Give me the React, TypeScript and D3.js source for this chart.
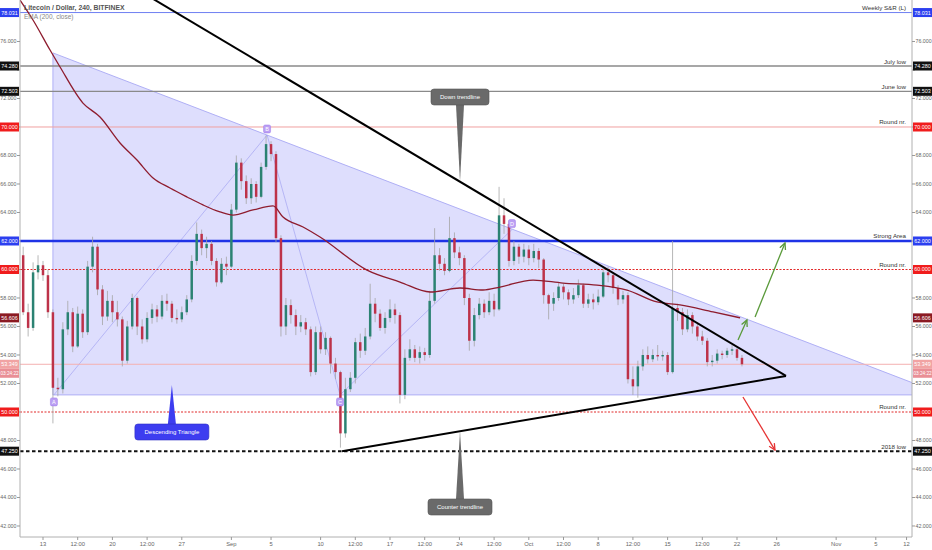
import * as d3 from 'd3';

// ---- data ----
const DAY0 = Date.UTC(2018, 7, 13); // 13 Aug 2018
const CANDLE_START = Date.UTC(2018, 7, 11); // 12h candles
const firstOpen = 61.0;
const closes = [
  57.0, 55.9, 59.8, 60.3, 59.6, 57.0, 51.7, 51.6, 55.8, 57.0,
  54.6, 56.9, 55.6, 60.2, 61.6, 58.6, 56.7, 57.8, 57.0, 56.5,
  53.6, 56.0, 58.0, 56.0, 55.1, 56.6, 57.2, 56.7, 57.8, 57.6,
  56.6, 56.5, 57.0, 57.9, 60.6, 62.5, 61.5, 61.8, 60.6, 59.1,
  60.4, 60.2, 64.2, 67.5, 66.2, 65.0, 66.0, 65.1, 67.2, 68.8,
  68.1, 62.2, 56.0, 57.5, 56.8, 56.0, 56.3, 55.8, 52.8, 55.6,
  54.4, 55.2, 53.4, 52.8, 48.5, 51.6, 52.4, 54.9, 54.3, 55.3,
  57.6, 56.9, 55.9, 56.6, 57.2, 56.8, 51.2, 53.8, 54.4, 53.8,
  54.2, 54.0, 57.8, 61.0, 60.4, 59.9, 62.2, 61.2, 60.8, 58.0,
  55.0, 56.8, 57.6, 57.0, 57.8, 57.2, 63.8, 63.2, 60.6, 61.6,
  60.9, 61.4, 60.8, 61.3, 60.7, 58.2, 57.6, 58.0, 58.8, 58.4,
  57.9, 58.2, 58.9, 57.6, 57.9, 57.7, 58.1, 59.8, 59.6, 58.7,
  57.9, 58.2, 52.3, 51.8, 53.2, 54.0, 53.7, 54.0, 53.9, 54.0,
  52.8, 57.3, 57.0, 55.8, 56.8, 56.0, 55.3, 55.0, 53.5, 53.6,
  54.1, 54.0, 54.3, 54.4, 53.8, 53.35,
];
const highs = [
  61.6, 57.6, 60.5, 61.0, 60.6, 60.0, 57.2, 52.4, 56.3, 57.8,
  57.3, 57.4, 57.2, 60.6, 62.3, 61.8, 58.9, 58.5, 58.2, 57.8,
  56.7, 56.4, 58.3, 58.1, 56.5, 57.0, 57.6, 57.5, 58.2, 58.3,
  57.8, 57.2, 57.4, 58.2, 61.0, 63.3, 62.8, 62.3, 62.0, 60.8,
  60.8, 60.9, 64.6, 68.0, 67.8, 66.6, 66.4, 66.2, 67.5, 69.4,
  69.0, 68.3, 62.4, 58.0, 57.9, 57.2, 56.8, 56.6, 56.0, 56.0,
  56.0, 55.6, 55.3, 53.8, 52.9, 52.4, 52.8, 55.2, 55.5, 55.9,
  59.0, 58.0, 57.2, 57.0, 57.9, 57.6, 57.0, 54.4, 55.1, 54.7,
  54.6, 54.5, 58.5, 62.9, 61.5, 60.8, 63.7, 62.6, 61.6, 61.0,
  58.3, 57.3, 58.0, 57.9, 58.4, 58.3, 65.8, 65.0, 63.4, 62.0,
  61.8, 61.8, 61.7, 61.8, 61.5, 60.8, 58.3, 58.4, 59.1, 59.0,
  58.6, 58.7, 59.3, 59.0, 58.3, 58.3, 58.6, 60.1, 60.2, 59.8,
  58.9, 58.5, 58.4, 53.2, 53.6, 54.4, 54.6, 54.4, 54.7, 54.3,
  54.2, 62.0, 57.6, 57.3, 57.2, 57.0, 56.2, 55.7, 55.2, 54.0,
  54.4, 54.3, 54.5, 54.7, 54.5, 54.0,
];
const lows = [
  56.8, 55.3, 55.7, 59.3, 59.2, 56.6, 49.2, 51.1, 51.3, 55.4,
  54.2, 54.5, 55.2, 55.4, 59.8, 58.2, 56.1, 56.4, 56.3, 56.0,
  53.2, 53.4, 55.8, 55.4, 54.8, 54.9, 56.2, 56.3, 56.5, 57.1,
  56.3, 56.2, 56.3, 56.8, 57.7, 60.3, 61.0, 60.8, 60.3, 58.8,
  59.0, 59.6, 60.1, 64.0, 65.6, 64.6, 64.6, 64.7, 65.0, 67.0,
  67.6, 61.9, 55.3, 55.4, 56.2, 55.4, 55.6, 55.4, 52.5, 52.6,
  54.1, 54.0, 52.7, 52.3, 47.5, 48.2, 51.4, 52.0, 53.8, 54.0,
  55.1, 56.3, 55.7, 55.5, 56.3, 56.2, 50.6, 50.9, 53.6, 53.5,
  53.4, 53.6, 53.8, 57.6, 59.9, 59.6, 59.8, 60.8, 60.3, 57.5,
  54.3, 54.6, 56.5, 56.6, 56.8, 56.7, 57.1, 62.5, 60.2, 60.3,
  60.4, 60.5, 60.3, 60.5, 60.1, 57.6, 56.5, 57.1, 57.8, 57.9,
  57.5, 57.6, 58.0, 57.3, 57.3, 57.2, 57.5, 58.0, 59.1, 58.3,
  57.5, 57.6, 52.0, 51.2, 51.0, 52.9, 53.4, 53.5, 53.6, 53.6,
  52.6, 52.7, 56.4, 55.4, 55.6, 55.5, 55.0, 54.7, 53.2, 53.2,
  53.4, 53.7, 53.8, 54.0, 53.6, 53.2,
];

// EMA(200, close), days after 13 Aug and value
const emaDays = [-2.32, -1.01, 0.71, 1.72, 4.03, 5.75, 7.77, 9.48, 11.1, 12.81, 14.53, 16.14, 17.85, 19.16, 21.18, 23.2, 24.21, 26.23, 27.94, 32.68, 36.01, 39.04, 42.06, 44.38, 46.1, 49.43, 52.45, 55.88, 58.91, 61.93, 64.25, 67.58, 70.31];
const emaValues = [78.91, 77.51, 75.4, 74.21, 71.68, 70.7, 68.88, 67.68, 66.42, 65.72, 65.09, 64.53, 64.04, 63.82, 64.18, 64.46, 63.68, 62.98, 62.28, 59.96, 59.12, 58.42, 58.7, 58.56, 58.77, 59.26, 59.05, 58.91, 58.56, 57.72, 57.51, 57.02, 56.61];

// horizontal levels
const levelValues = [78.031, 74.28, 72.503, 70, 62, 60, 50, 47.25];
const levelNames = ['Weekly S&R (L)', 'July low', 'June low', 'Round nr.', 'Strong Area', 'Round nr.', 'Round nr.', '2018 low'];
const emaLast = 56.606;
const lastPrice = 53.349;
const countdown = '03:24:22';

// descending triangle pattern (day, price)
const triDays = [1.0, 87.7];
const triTop = [75.2, 52.05];
const triBottom = 51.2;
const abcdNames = ['A', 'B', 'C', 'D'];
const abcdDays = [1.1, 22.6, 29.96, 47.3];
const abcdPrices = [51.2, 69.44, 51.2, 62.8];

// trendlines (day, price)
const downDays = [10.5, 74.94];
const downPrices = [79.24, 52.53];
const counterDays = [30.16, 74.94];
const counterPrices = [47.25, 52.53];

// projection arrows (day, price)
const greenArrow1 = [[70.1, 55.05], [71.0, 56.46]];
const greenArrow2 = [[71.82, 56.67], [74.84, 61.86]];
const redArrow = [[70.6, 51.05], [73.83, 47.33]];

// time axis
const tickDays = [0, 3.5, 7, 10.5, 14, 19, 23, 28, 31.5, 35, 38.5, 42, 45.5, 49, 52.5, 56, 59.5, 63, 66.5, 70, 74, 80, 84, 87.1];
const tickLabels = ['13', '12:00', '20', '12:00', '27', 'Sep', '5', '10', '12:00', '17', '12:00', '24', '12:00', 'Oct', '12:00', '8', '12:00', '15', '12:00', '22', '26', 'Nov', '5', '12'];
const priceTicks = d3.range(42, 77, 2);

// ---- layout ----
const W = 932;
const H = 550;
const P = { left: 20, right: 912, top: 0, bottom: 537 };
const FONT = '"Liberation Sans", Arial, sans-serif';

const day = (d: number) => new Date(DAY0 + d * 864e5);
const x = d3.scaleUtc().domain([day(-2.32), day(87.65)]).range([P.left, P.right]);
const y = d3.scaleLinear().domain([41.228, 78.912]).range([P.bottom, P.top]);
const xd = (d: number) => x(day(d));

const UP = '#2b8272';
const DOWN = '#bd3249';

const levelStyle = [
  { color: '#6f7ff2', width: 1, dash: '', box: '#2c3ff0' },
  { color: '#8a8a8a', width: 1.3, dash: '', box: '#111' },
  { color: '#8a8a8a', width: 1.3, dash: '', box: '#111' },
  { color: '#f0a0a0', width: 1, dash: '', box: '#f01c1c' },
  { color: '#1f33e6', width: 2.4, dash: '', box: '#2c3ff0' },
  { color: '#e22a2a', width: 1.2, dash: '2,1.5', box: '#f01c1c' },
  { color: '#e22a2a', width: 1.2, dash: '2,1.5', box: '#f01c1c' },
  { color: '#111', width: 2, dash: '3.5,2.5', box: '#111' },
];

// values that get a coloured box on both price scales
const boxedValues = [...levelValues, emaLast, lastPrice];

function PriceBox({ value, bg, text, dy = 0, size = 5.4 }: { value: number; bg: string; text?: string; dy?: number; size?: number }) {
  const yy = y(value) + dy;
  const label = text ?? value.toFixed(3);
  return (
    <g>
      <rect x={0} y={yy - 4.5} width={19} height={9} fill={bg} />
      <text x={9.5} y={yy + 2} fontSize={size} fill="#fff" textAnchor="middle">{label}</text>
      <rect x={913} y={yy - 4.5} width={19} height={9} fill={bg} />
      <text x={922.5} y={yy + 2} fontSize={size} fill="#fff" textAnchor="middle">{label}</text>
    </g>
  );
}

function Arrow({ pts, color }: { pts: number[][]; color: string }) {
  const [a, b] = pts.map(([d, p]) => [xd(d), y(p)]);
  const ang = Math.atan2(b[1] - a[1], b[0] - a[0]);
  const len = 7;
  const h1 = [b[0] - len * Math.cos(ang - 0.45), b[1] - len * Math.sin(ang - 0.45)];
  const h2 = [b[0] - len * Math.cos(ang + 0.45), b[1] - len * Math.sin(ang + 0.45)];
  return (
    <g stroke={color} strokeWidth={1.3} fill="none">
      <line x1={a[0]} y1={a[1]} x2={b[0]} y2={b[1]} />
      <polyline points={`${h1[0]},${h1[1]} ${b[0]},${b[1]} ${h2[0]},${h2[1]}`} />
    </g>
  );
}

function Callout({ tx, ty, bx, by, w, h, label, fill }: { tx: number; ty: number; bx: number; by: number; w: number; h: number; label: string; fill: string }) {
  // (tx,ty) pointer tip, (bx,by) box centre
  const baseY = ty < by ? by - h / 2 : by + h / 2;
  return (
    <g>
      <polygon points={`${bx - 4},${baseY} ${bx + 4},${baseY} ${tx},${ty}`} fill={fill} />
      <rect x={bx - w / 2} y={by - h / 2} width={w} height={h} rx={3} fill={fill} stroke={d3.color(fill)!.darker(0.6).toString()} strokeWidth={0.6} />
      <text x={bx} y={by + 2.2} fontSize={6} fill="#fff" textAnchor="middle">{label}</text>
    </g>
  );
}

export default function App() {
  const step = 12 * 3600e3;
  const bw = (x(new Date(CANDLE_START + step)) - x(new Date(CANDLE_START))) * 0.5;
  const candles = closes.map((c, i) => {
    const o = i ? closes[i - 1] : firstOpen;
    return { t: new Date(CANDLE_START + i * step), o, c, h: Math.max(highs[i], o, c), l: Math.min(lows[i], o, c) };
  });

  const emaLine = d3.line<number>().x((_, i) => xd(emaDays[i])).y((v) => y(v)).curve(d3.curveMonotoneX);

  const tri = [
    [xd(triDays[0]), y(triTop[0])],
    [xd(triDays[1]), y(triTop[1])],
    [xd(triDays[1]), y(triBottom)],
    [xd(triDays[0]), y(triBottom)],
  ];

  const downAt = (d: number) => {
    const k = (d - downDays[0]) / (downDays[1] - downDays[0]);
    return downPrices[0] + k * (downPrices[1] - downPrices[0]);
  };
  const counterAt = (d: number) => {
    const k = (d - counterDays[0]) / (counterDays[1] - counterDays[0]);
    return counterPrices[0] + k * (counterPrices[1] - counterPrices[0]);
  };

  const calloutDay = 42.06;
  const dtTip = [xd(calloutDay), y(downAt(calloutDay))];
  const ctTip = [xd(calloutDay), y(counterAt(calloutDay))];
  const triTip = [xd(13.0), y(51.9)];

  const abcd = abcdDays.map((d, i) => [xd(d), y(abcdPrices[i])]);

  // tick labels hidden where a price box sits on top of them
  const visibleTicks = priceTicks.filter((v) => boxedValues.every((b) => Math.abs(y(b) - y(v)) > 7) && Math.abs(y(lastPrice) + 9 - y(v)) > 7);

  return (
    <svg width={W} height={H} style={{ position: 'fixed', left: 0, top: 0, background: '#fff', fontFamily: FONT }}>
      <defs>
        <clipPath id="plot">
          <rect x={P.left} y={P.top} width={P.right - P.left} height={P.bottom - P.top} />
        </clipPath>
      </defs>
      <rect width={W} height={H} fill="#fff" />

      <g clipPath="url(#plot)">
        {/* descending triangle */}
        <polygon points={tri.map((p) => p.join(',')).join(' ')} fill="rgba(105,105,245,0.22)" stroke="#a8a8f4" strokeWidth={0.9} />
        <polyline points={abcd.map((p) => p.join(',')).join(' ')} fill="none" stroke="#9a9af0" strokeWidth={0.6} />

        {/* horizontal levels */}
        {levelValues.map((v, i) => (
          <line key={i} x1={P.left} x2={P.right} y1={y(v)} y2={y(v)} stroke={levelStyle[i].color} strokeWidth={levelStyle[i].width} strokeDasharray={levelStyle[i].dash || undefined} />
        ))}
        <line x1={P.left} x2={P.right} y1={y(lastPrice)} y2={y(lastPrice)} stroke="#f4b0b0" strokeWidth={1} />

        {/* candles */}
        {candles.map((d, i) => {
          const cx = x(d.t);
          const top = y(Math.max(d.o, d.c));
          const bot = y(Math.min(d.o, d.c));
          return (
            <g key={i}>
              <line x1={cx} x2={cx} y1={y(d.h)} y2={y(d.l)} stroke="#a5a5a5" strokeWidth={0.8} />
              <rect x={cx - bw / 2} y={top} width={bw} height={Math.max(1, bot - top)} fill={d.c >= d.o ? UP : DOWN} />
            </g>
          );
        })}

        {/* EMA 200 */}
        <path d={emaLine(emaValues)!} fill="none" stroke="#8e1c2e" strokeWidth={1.3} />

        {/* trendlines */}
        <line x1={xd(downDays[0])} y1={y(downPrices[0])} x2={xd(downDays[1])} y2={y(downPrices[1])} stroke="#000" strokeWidth={2} />
        <line x1={xd(counterDays[0])} y1={y(counterPrices[0])} x2={xd(counterDays[1])} y2={y(counterPrices[1])} stroke="#000" strokeWidth={2} />

        <Arrow pts={greenArrow1} color="#5a9a3a" />
        <Arrow pts={greenArrow2} color="#5a9a3a" />
        <Arrow pts={redArrow} color="#e63434" />

        {/* ABCD markers */}
        {abcd.map(([px, py], i) => {
          const below = i % 2 === 0;
          const cy = below ? py + 7 : py - 6;
          return (
            <g key={i}>
              <rect x={px - 3.5} y={cy - 4} width={7} height={8} rx={1.5} fill="#bb9ff3" stroke="#9b77ea" strokeWidth={0.5} />
              <text x={px} y={cy + 2} fontSize={5.5} fill="#fff" textAnchor="middle">{abcdNames[i]}</text>
            </g>
          );
        })}

        {/* level labels */}
        {levelValues.map((v, i) => (
          <text key={i} x={906} y={y(v) - 2.5} fontSize={6.2} fill="#333" textAnchor="end">{levelNames[i]}</text>
        ))}

        <Callout tx={dtTip[0]} ty={dtTip[1]} bx={dtTip[0]} by={97} w={58} h={16} label="Down trendline" fill="#6a6a6a" />
        <Callout tx={ctTip[0]} ty={ctTip[1]} bx={ctTip[0]} by={507} w={64} h={16} label="Counter trendline" fill="#6a6a6a" />
        <Callout tx={triTip[0]} ty={triTip[1]} bx={triTip[0]} by={432} w={74} h={16} label="Descending Triangle" fill="#3d3df0" />

        {/* header */}
        <text x={24} y={10} fontSize={6.8} fill="#555" fontWeight="bold">Litecoin / Dollar, 240, BITFINEX</text>
        <text x={24} y={19} fontSize={6.5} fill="#888">EMA (200, close)</text>
      </g>

      {/* axes */}
      <line x1={P.left} x2={P.left} y1={0} y2={P.bottom} stroke="#b0b0b0" strokeWidth={1} />
      <line x1={P.right} x2={P.right} y1={0} y2={P.bottom} stroke="#b0b0b0" strokeWidth={1} />
      <line x1={P.left} x2={P.right} y1={P.bottom} y2={P.bottom} stroke="#b0b0b0" strokeWidth={1} />
      {priceTicks.map((v) => (
        <g key={v}>
          <line x1={17} x2={20} y1={y(v)} y2={y(v)} stroke="#999" />
          <line x1={912} x2={915} y1={y(v)} y2={y(v)} stroke="#999" />
        </g>
      ))}
      {visibleTicks.map((v) => (
        <g key={v} fontSize={5.3} fill="#666">
          <text x={16.5} y={y(v) + 2} textAnchor="end">{v.toFixed(3)}</text>
          <text x={915.5} y={y(v) + 2}>{v.toFixed(3)}</text>
        </g>
      ))}
      {tickDays.map((d, i) => (
        <g key={i}>
          <line x1={xd(d)} x2={xd(d)} y1={P.bottom} y2={P.bottom + 3} stroke="#999" />
          <text x={xd(d)} y={546} fontSize={5.8} fill="#666" textAnchor="middle">{tickLabels[i]}</text>
        </g>
      ))}

      {/* price boxes */}
      {levelValues.map((v, i) => (
        <PriceBox key={i} value={v} bg={levelStyle[i].box} />
      ))}
      <PriceBox value={emaLast} bg="#8b1a22" />
      <PriceBox value={lastPrice} bg="#f1a3a3" />
      <PriceBox value={lastPrice} dy={9} bg="#e98f96" text={countdown} size={4.7} />
    </svg>
  );
}
